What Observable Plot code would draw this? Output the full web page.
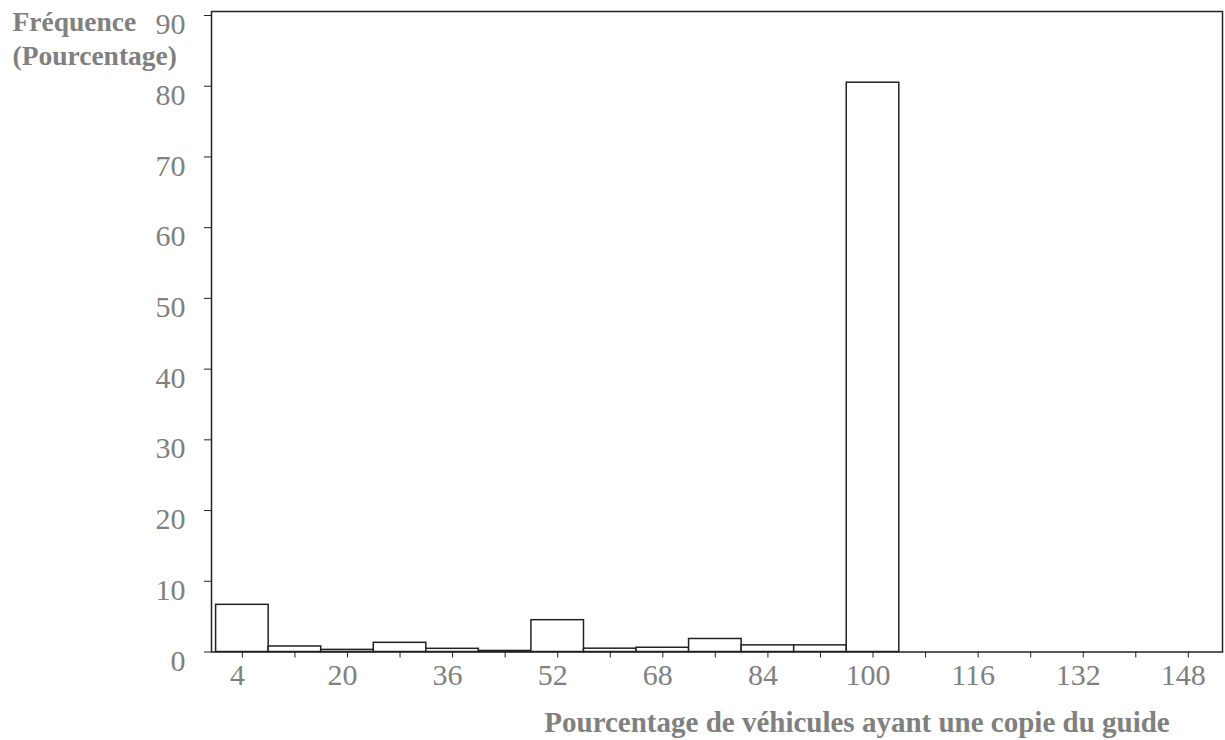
<!DOCTYPE html>
<html><head><meta charset="utf-8">
<script src="https://cdn.jsdelivr.net/npm/d3@7"></script>
<script src="https://cdn.jsdelivr.net/npm/@observablehq/plot@0.6"></script>
<style>body{margin:0;background:#fff} svg{display:block}</style>
</head><body><div id="chart"></div>
<script>
const binStarts = [0, 8, 16, 24, 32, 40, 48, 56, 64, 72, 80, 88, 96];
const binWidth = 8;
const frequencies = [6.67, 0.78, 0.3, 1.3, 0.45, 0.15, 4.5, 0.47, 0.6, 1.84, 0.94, 0.94, 80.5];
const xTickValues = [4, 12, 20, 28, 36, 44, 52, 60, 68, 76, 84, 92, 100, 108, 116, 124, 132, 140, 148];
const xTickLabels = [4, 20, 36, 52, 68, 84, 100, 116, 132, 148];
const yTickValues = [0, 10, 20, 30, 40, 50, 60, 70, 80, 90];
const yTitle = ["Fréquence", "(Pourcentage)"];
const xTitle = "Pourcentage de véhicules ayant une copie du guide";

const data = binStarts.map((s, i) => ({start: s, end: s + binWidth, f: frequencies[i]}));
const ink = "#222";
const grey = "#808080";
const serif = "'Liberation Serif', 'Times New Roman', serif";

const chart = Plot.plot({
  width: 1225,
  height: 740,
  marginLeft: 211,
  marginRight: 3,
  marginTop: 11,
  marginBottom: 88.5,
  style: {fontFamily: serif, background: "#fff"},
  x: {domain: [-0.7, 153.2]},
  y: {domain: [0, 90.57]},
  marks: [
    Plot.rectY(data, {x1: "start", x2: "end", y: "f", fill: "white", stroke: ink, strokeWidth: 1.5}),
    Plot.frame({stroke: ink, strokeWidth: 1.5}),
    Plot.axisY({ticks: yTickValues, tickSize: 7, stroke: ink, label: null, tickFormat: () => ""}),
    Plot.axisY({ticks: yTickValues, tickSize: 0, tickPadding: 26, fontSize: 30, fill: grey, label: null, dy: 9}),
    Plot.axisX({ticks: xTickValues, tickSize: 6, stroke: ink, label: null, tickFormat: () => ""}),
    Plot.axisX({ticks: xTickLabels, tickSize: 0, tickPadding: 12, fontSize: 30, fill: grey, label: null, dx: -5}),
    Plot.text([yTitle.join("\n")], {frameAnchor: "top-left", dx: -199, dy: -5, lineAnchor: "top", textAnchor: "start",
      fontSize: 27.5, fontWeight: "bold", fill: grey, lineHeight: 1.24}),
    Plot.text([xTitle], {frameAnchor: "bottom", dx: 140, dy: 71, lineAnchor: "middle", textAnchor: "middle",
      fontSize: 29, fontWeight: "bold", fill: grey})
  ]
});
document.getElementById("chart").appendChild(chart);
</script></body></html>
